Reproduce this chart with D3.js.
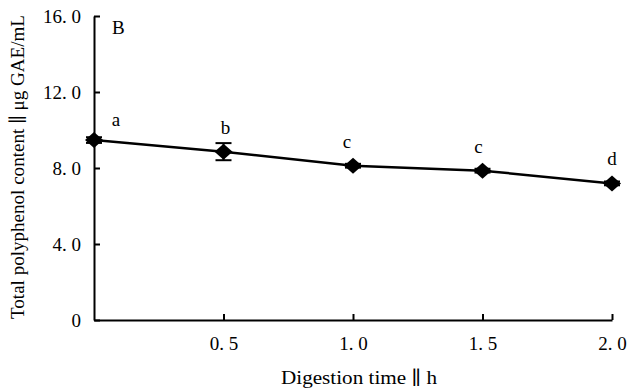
<!DOCTYPE html>
<html>
<head>
<meta charset="utf-8">
<script src="https://cdn.jsdelivr.net/npm/d3@7"></script>
<style>
  body { margin: 0; background: #fff; }
  svg text { font-family: "Liberation Serif", "DejaVu Serif", serif !important; fill: #000; }
</style>
</head>
<body>
<svg id="chart" width="627" height="388"></svg>
<script>
// digestion time (h) and total polyphenol content (ug GAE/mL)
const times = [0, 0.5, 1.0, 1.5, 2.0];
const values = [9.47, 8.86, 8.12, 7.86, 7.19];
const errors = [0.15, 0.45, 0.1, 0.1, 0.1];
const letters = ["a", "b", "c", "c", "d"];
const xTicks = [0.5, 1.0, 1.5, 2.0];
const yTicks = [0, 4, 8, 12, 16];

const svg = d3.select("#chart");
const margin = {left: 94, right: 15, top: 16, bottom: 68};
const height = 388 - margin.top - margin.bottom;

const g = svg.append("g")
  .attr("transform", `translate(${margin.left},${margin.top})`);

const x = d3.scaleLinear().domain([0, 2]).range([0, 518]);
const y = d3.scaleLinear().domain([0, 16]).range([height, 0]);

const fmt = d => d === 0 ? "0" : d3.format(".1f")(d).replace(".", ". ");

// x axis
const xAxis = g.append("g")
  .attr("font-family", "Liberation Serif")
  .attr("transform", `translate(0,${height})`)
  .call(d3.axisBottom(x).tickValues(xTicks).tickSize(-6).tickSizeOuter(0).tickPadding(17).tickFormat(fmt));
xAxis.select(".domain").attr("stroke-width", 2);
xAxis.selectAll(".tick line").attr("stroke-width", 2);
xAxis.selectAll("text").attr("font-size", 19);

// y axis
const yAxis = g.append("g")
  .attr("font-family", "Liberation Serif")
  .call(d3.axisLeft(y).tickValues(yTicks).tickSize(-6).tickSizeOuter(0).tickPadding(13).tickFormat(fmt));
yAxis.select(".domain").attr("stroke-width", 2);
yAxis.selectAll(".tick line").attr("stroke-width", 2);
yAxis.selectAll("text").attr("font-size", 19);

// line
g.append("path")
  .datum(times.map((t, i) => [t, values[i]]))
  .attr("fill", "none")
  .attr("stroke", "#000")
  .attr("stroke-width", 2.5)
  .attr("d", d3.line().x(d => x(d[0])).y(d => y(d[1])));

// error bars
const eb = g.selectAll(".err").data(times).enter().append("g");
eb.append("line")
  .attr("x1", d => x(d)).attr("x2", d => x(d))
  .attr("y1", (d, i) => y(values[i] + errors[i]))
  .attr("y2", (d, i) => y(values[i] - errors[i]))
  .attr("stroke", "#000").attr("stroke-width", 2);
[1, -1].forEach(s => {
  eb.append("line")
    .attr("x1", d => x(d) - 8).attr("x2", d => x(d) + 8)
    .attr("y1", (d, i) => y(values[i] + s * errors[i]))
    .attr("y2", (d, i) => y(values[i] + s * errors[i]))
    .attr("stroke", "#000").attr("stroke-width", 2);
});

// diamond markers
g.selectAll(".pt").data(times).enter().append("path")
  .attr("transform", (d, i) => `translate(${x(d)},${y(values[i])})`)
  .attr("d", "M0,-8L9,0L0,8L-9,0Z")
  .attr("fill", "#000");

// significance letters
const letterDx = [22, 2, -6, -4, 0];
const letterDy = [-14, -18, -18, -18, -18];
g.selectAll(".lab").data(times).enter().append("text")
  .attr("x", (d, i) => x(d) + letterDx[i])
  .attr("y", (d, i) => y(values[i]) + letterDy[i])
  .attr("text-anchor", "middle")
  .attr("font-size", 19)
  .text((d, i) => letters[i]);

// panel letter
svg.append("text").attr("x", 112).attr("y", 34).attr("font-size", 19).text("B");

// axis titles
svg.append("text")
  .attr("x", 359).attr("y", 384)
  .attr("text-anchor", "middle")
  .attr("font-size", 19)
  .attr("textLength", 156).attr("lengthAdjust", "spacingAndGlyphs")
  .text("Digestion time \u2225 h");

svg.append("text")
  .attr("transform", "translate(24,167) rotate(-90)")
  .attr("text-anchor", "middle")
  .attr("font-size", 19)
  .attr("textLength", 304).attr("lengthAdjust", "spacingAndGlyphs")
  .text("Total polyphenol content \u2225 \u03bcg GAE/mL");
</script>
</body>
</html>
